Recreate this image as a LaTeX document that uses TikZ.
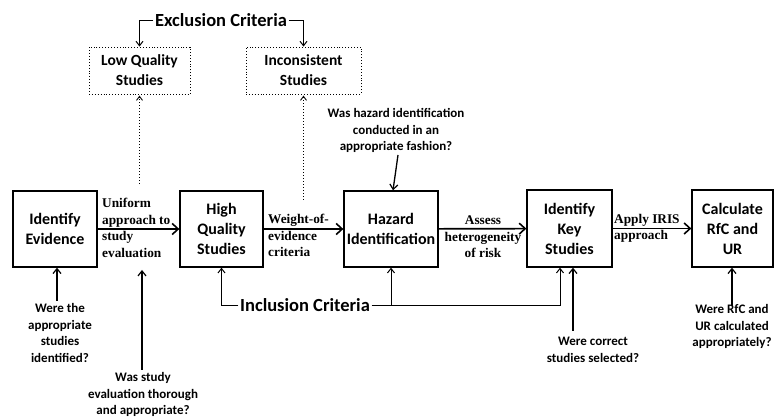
\documentclass[tikz,border=0pt]{standalone}
\usepackage{fontspec}
\setmainfont{Carlito}
\newfontfamily\lblfont{Liberation Serif}
\usetikzlibrary{arrows.meta}

\tikzset{
  stepbox/.style={draw, line width=1.3pt, align=center, inner sep=2pt,
    font=\bfseries\fontsize{16}{20}\selectfont},
  outbox/.style={draw, dotted, line width=0.9pt, align=center, inner sep=2pt,
    font=\bfseries\fontsize{15.5}{20}\selectfont},
  edgelbl/.style={align=left, inner sep=0pt,
    font=\lblfont\bfseries\fontsize{13.3}{16.5}\selectfont},
  question/.style={align=center, inner sep=2pt,
    font=\bfseries\fontsize{13}{16.7}\selectfont},
  criteria/.style={inner sep=1.5pt, font=\bfseries\fontsize{18.5}{22}\selectfont},
  flow/.style={line width=1.7pt, -{Straight Barb[length=6pt,width=11pt,line width=1.6pt]}},
  ask/.style={line width=1.3pt, -{Straight Barb[length=5pt,width=8pt,line width=1.2pt]}},
  crit/.style={line width=0.9pt, -{Straight Barb[length=4.5pt,width=7pt,line width=1pt]}},
  exclude/.style={line width=1pt, dotted, -{Straight Barb[length=4pt,width=6pt,line width=0.9pt,sep]}},
}

\begin{document}
\begin{tikzpicture}[x=1pt,y=-1pt]
\useasboundingbox[fill=white] (0,0) rectangle (777,419);

% main process steps
\node[stepbox, minimum width=84pt, minimum height=76pt] (ev)  at (55,229)    {Identify\\Evidence};
\node[stepbox, minimum width=83pt, minimum height=76pt] (hq)  at (221.5,229) {High\\Quality\\Studies};
\node[stepbox, minimum width=94pt, minimum height=76pt] (hz)  at (391,229)   {Hazard\\Identification};
\node[stepbox, minimum width=85pt, minimum height=77pt] (ks)  at (569.5,228.5) {Identify\\Key\\Studies};
\node[stepbox, minimum width=81pt, minimum height=77pt] (rfc) at (732.5,228.5) {Calculate\\RfC and\\UR};

% excluded study sets
\node[outbox, minimum width=101pt, minimum height=47pt] (lq)  at (139.5,70.5) {Low Quality\\Studies};
\node[outbox, minimum width=115pt, minimum height=47pt] (inc) at (303.5,70.5) {Inconsistent\\Studies};

% criteria headings
\node[criteria] (excl) at (221,20)  {Exclusion Criteria};
\node[criteria] (incl) at (305,305) {Inclusion Criteria};

% labels on the flow arrows
\node[edgelbl, anchor=north west] (l1) at (102,198) {Uniform\\approach to\\study\\evaluation};
\node[edgelbl, anchor=north west] (l2) at (268,214) {Weight-of-\\evidence\\criteria};
\node[edgelbl, anchor=north, align=center] (l3) at (483,216) {Assess\\heterogeneity\\of risk};
\node[edgelbl, anchor=north west] (l4) at (614,214) {Apply IRIS\\approach};

% review questions
\node[question, anchor=south] (hzq) at (396,155) {Was hazard identification\\conducted in an\\appropriate fashion?};
\node[question, anchor=north] (evq) at (60,301)  {Were the\\appropriate\\studies\\identified?};
\node[question, anchor=north] (seq) at (143,370) {Was study\\evaluation thorough\\and appropriate?};
\node[question, anchor=north] (ksq) at (593,335) {Were correct\\studies selected?};
\node[question, anchor=north] (rfq) at (732,302) {Were RfC and\\UR calculated\\appropriately?};

% free ends
\coordinate (lqfoot) at (139.5,184);
\coordinate (incfoot) at (303.5,200);
\coordinate (setip) at (142,270);

% flow
\draw[flow] (ev) -- (hq);
\draw[flow] (hq) -- (hz);
\draw[flow] (hz) -- (ks);
\draw[flow] (ks) -- (rfc);

% exclusion
\draw[crit] (excl.west) -| (lq.north);
\draw[crit] (excl.east) -| (inc.north);
\draw[exclude] (lqfoot) -- (lq.south);
\draw[exclude] (incfoot) -- (inc.south);

% inclusion
\draw[crit] (incl.west) -| (hq.south);
\draw[crit] (incl.east) -| ([xshift=-9.5pt]ks.south);
\draw[crit] (hz.south |- incl.east) -- (hz.south);

% questions
\draw[ask] ([xshift=2pt]hzq.south) -- ([xshift=2pt]hz.north);
\draw[ask] ([xshift=-3pt]evq.north) -- ([xshift=-3pt]evq.north |- ev.south);
\draw[ask] ([xshift=-1pt]seq.north) -- (setip);
\draw[ask] ([xshift=3.5pt]ks.south |- ksq.north) ++(0,-4) -- ([xshift=3.5pt]ks.south);
\draw[ask] ([yshift=-4pt]rfq.north) -- (rfq.north |- rfc.south);
\end{tikzpicture}
\end{document}
